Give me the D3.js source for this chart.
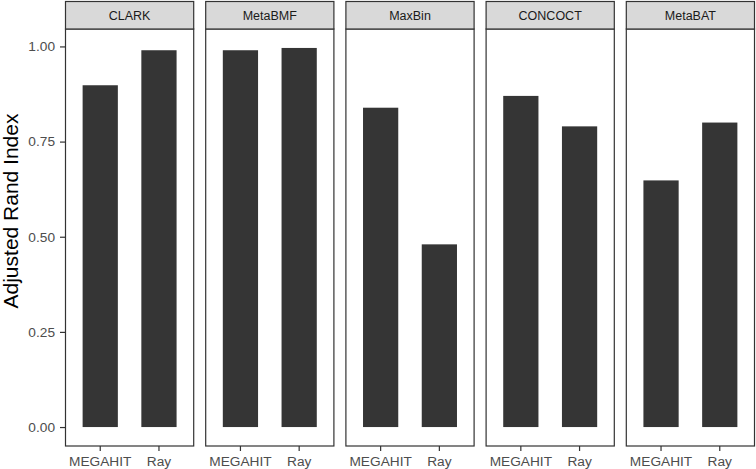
<!DOCTYPE html>
<html>
<head>
<meta charset="utf-8">
<script src="https://cdn.jsdelivr.net/npm/d3@7"></script>
<style>
    body { margin: 0; background: #fff; }
    svg { display: block; font-family: "Liberation Sans", Arial, Helvetica, sans-serif; }
</style>
</head>
<body>
<svg id="chart" width="756" height="469"></svg>
<script>
// facets, assemblers and values
const binners = ["CLARK", "MetaBMF", "MaxBin", "CONCOCT", "MetaBAT"];
const assemblers = ["MEGAHIT", "Ray"];
const megahitValues = [0.898, 0.990, 0.839, 0.870, 0.648];
const rayValues = [0.990, 0.996, 0.480, 0.790, 0.800];
const yTicks = [0, 0.25, 0.5, 0.75, 1];

const width = 756;
const height = 469;
const margin = { left: 65, right: 1, top: 1, bottom: 23 };
const stripH = 28;
const gap = 11;

const svg = d3.select("#chart");

const plotW = width - margin.left - margin.right;
const panelW = (plotW - gap * (binners.length - 1)) / binners.length;
const panelTop = margin.top + stripH;
const panelBottom = height - margin.bottom;

const maxVal = d3.max(megahitValues.concat(rayValues));
const y = d3.scaleLinear()
    .domain([-0.05 * maxVal, maxVal * 1.05])
    .range([panelBottom, panelTop]);

// discrete scale with 0.6 expansion each side, bars 0.6 wide
const x = d3.scaleBand()
    .domain(assemblers)
    .range([0, panelW])
    .paddingInner(0.4)
    .paddingOuter(0.3);

binners.forEach((name, i) => {
    const x0 = margin.left + i * (panelW + gap);
    const g = svg.append("g").attr("transform", `translate(${x0},0)`);
    const rows = [
        { a: "MEGAHIT", v: megahitValues[i] },
        { a: "Ray", v: rayValues[i] }
    ];

    g.selectAll("rect.bar")
        .data(rows)
        .join("rect")
        .attr("class", "bar")
        .attr("x", d => x(d.a))
        .attr("width", x.bandwidth())
        .attr("y", d => y(d.v))
        .attr("height", d => y(0) - y(d.v))
        .attr("fill", "#353535");

    // panel border
    g.append("rect")
        .attr("x", 0.5).attr("y", panelTop)
        .attr("width", panelW - 1).attr("height", panelBottom - panelTop)
        .attr("fill", "none")
        .attr("stroke", "#333333")
        .attr("stroke-width", 1.2);

    // strip
    g.append("rect")
        .attr("x", 0.5).attr("y", margin.top + 0.5)
        .attr("width", panelW - 1).attr("height", stripH - 0.5)
        .attr("fill", "#d9d9d9")
        .attr("stroke", "#333333")
        .attr("stroke-width", 1.2);
    g.append("text")
        .attr("x", panelW / 2)
        .attr("y", margin.top + stripH / 2 + 4.5)
        .attr("text-anchor", "middle")
        .attr("font-size", 12.5)
        .attr("fill", "#1a1a1a")
        .text(name);

    // x axis
    const xAxis = g.append("g")
        .attr("transform", `translate(0,${panelBottom})`)
        .call(d3.axisBottom(x).tickSize(5).tickPadding(5));
    xAxis.select(".domain").remove();
    xAxis.selectAll(".tick line").attr("stroke", "#333333").attr("stroke-width", 1.2);
    xAxis.selectAll(".tick text")
        .attr("font-size", 13.7)
        .attr("fill", "#4d4d4d")
        .attr("font-family", "Liberation Sans, Arial, sans-serif");

    if (i === 0) {
        const yAxis = g.append("g")
            .call(d3.axisLeft(y).tickValues(yTicks).tickFormat(d3.format(".2f")).tickSize(5).tickPadding(5));
        yAxis.select(".domain").remove();
        yAxis.selectAll(".tick line").attr("stroke", "#333333").attr("stroke-width", 1.2);
        yAxis.selectAll(".tick text")
            .attr("font-size", 13.7)
            .attr("fill", "#4d4d4d")
            .attr("font-family", "Liberation Sans, Arial, sans-serif");
    }
});

svg.append("text")
    .attr("transform", "translate(17.5,211) rotate(-90)")
    .attr("text-anchor", "middle")
    .attr("font-size", 21)
    .attr("fill", "#000")
    .text("Adjusted Rand Index");
</script>
</body>
</html>
